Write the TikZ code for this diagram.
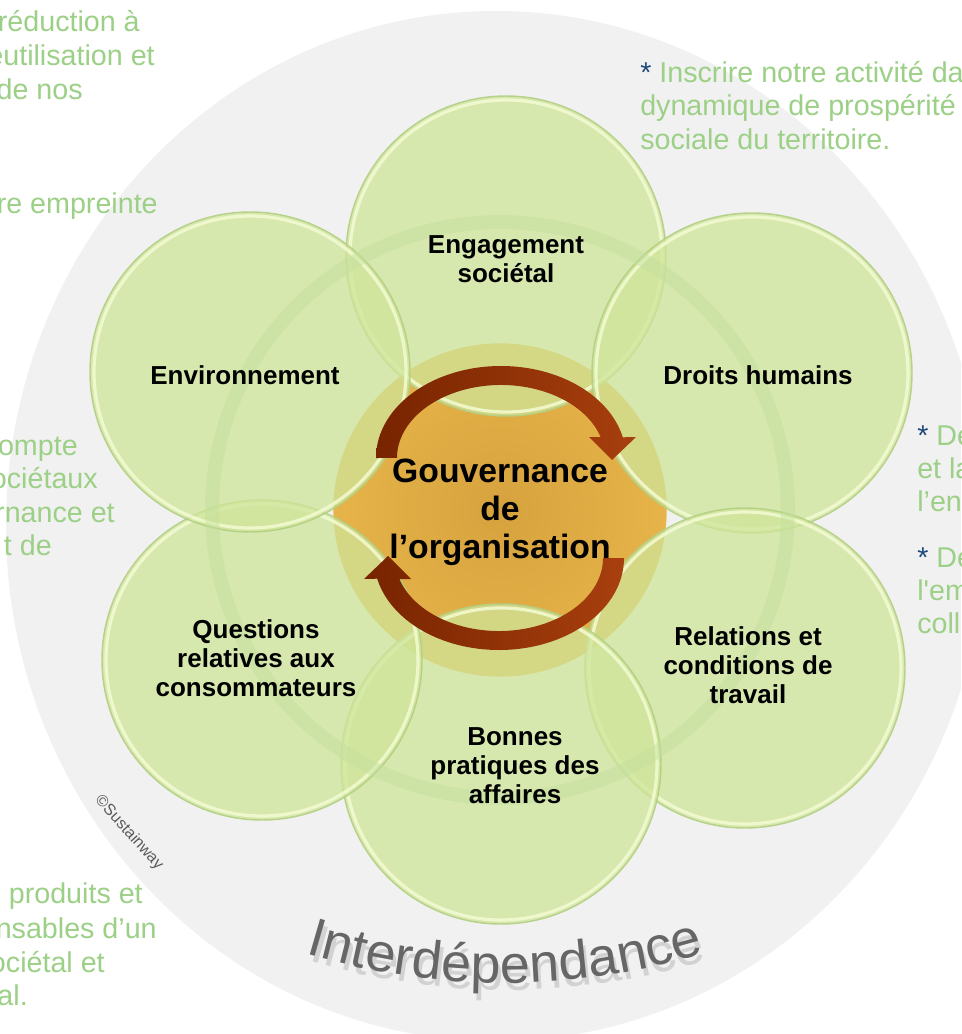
\documentclass[tikz,border=0pt]{standalone}
\usepackage{fontspec}
\setmainfont{Liberation Sans}[Ligatures=TeXOff]
\usetikzlibrary{decorations.text}
\definecolor{bggrey}{HTML}{F1F1F1}
\definecolor{leafgreen}{HTML}{CFE59A}
\definecolor{leafedge}{HTML}{B3CF84}
\definecolor{leafglow}{HTML}{F3FBD2}
\definecolor{hubin}{HTML}{D6A23E}
\definecolor{hubout}{HTML}{E6B449}
\definecolor{arrowdark}{HTML}{772400}
\definecolor{arrowlight}{HTML}{A83F0E}
\definecolor{notegreen}{HTML}{9DD087}
\definecolor{starblue}{HTML}{1F497D}
\definecolor{ringgreen}{HTML}{C2DF9C}
\definecolor{interd}{HTML}{666666}
\definecolor{interdshadow}{HTML}{D2D2D2}
\definecolor{copygrey}{HTML}{5A5A5A}
\begin{document}
\begin{tikzpicture}[x=0.75pt,y=-0.75pt,
  leaf/.style={circle, minimum size=240pt, inner sep=0pt, fill=leafgreen, fill opacity=0.75,
    draw=leafedge, line width=1.1pt, draw opacity=0.9},
  glow/.style={draw=leafglow, line width=2.4pt, draw opacity=0.85},
  hub/.style={circle, minimum size=250pt, inner sep=0pt, inner color=hubin, outer color=hubout},
  ring/.style={draw=ringgreen, line width=10.5pt, draw opacity=0.45},
  leaflabel/.style={font=\bfseries\fontsize{19.5}{21.75}\selectfont, align=center, text=black, inner sep=0pt},
  hublabel/.style={font=\bfseries\fontsize{25.3}{28.5}\selectfont, align=center, text=black, inner sep=0pt},
  arrowband/.style={left color=arrowdark, right color=arrowlight},
  noteL/.style={font=\fontsize{21.5}{25}\selectfont, text=notegreen, inner sep=0pt, anchor=base east},
  noteR/.style={font=\fontsize{21.5}{25}\selectfont, text=notegreen, inner sep=0pt, anchor=base west}
]
\useasboundingbox (0,0) rectangle (961,1034);
\clip (0,0) rectangle (961,1034);
\fill[white] (0,0) rectangle (961,1034);
% outer interdependence disc
\fill[bggrey] (496,526) ellipse[x radius=490, y radius=515];

% central hub
\node[hub] (hub) at (500,510) {};

% six leaves
\node[leaf] (top) at (506,256) {};
\draw[glow] (top.center) circle[radius=156];
\node[leaf] (ur) at (752,373) {};
\draw[glow] (ur.center) circle[radius=156];
\node[leaf] (lr) at (745,668) {};
\draw[glow] (lr.center) circle[radius=156];
\node[leaf] (bot) at (501,764) {};
\draw[glow] (bot.center) circle[radius=156];
\node[leaf] (ll) at (262,660) {};
\draw[glow] (ll.center) circle[radius=156];
\node[leaf] (ul) at (250,372) {};
\draw[glow] (ul.center) circle[radius=156];

% faint ring
\draw[ring] (hub.center) circle[radius=288];

% circular arrows
\path[arrowband] (376,458) arc[start angle=180, end angle=347, x radius=125, y radius=92]
  -- (636,437) -- (612,460) -- (589,437) -- (600.6,437)
  arc[start angle=343.3, end angle=180, x radius=104, y radius=73] -- cycle;
\begin{scope}[rotate around={180:(500,508)}]
\path[arrowband] (376,458) arc[start angle=180, end angle=347, x radius=125, y radius=92]
  -- (636,437) -- (612,460) -- (589,437) -- (600.6,437)
  arc[start angle=343.3, end angle=180, x radius=104, y radius=73] -- cycle;
\end{scope}

% labels
\node[leaflabel] (topT) at (506,259) {Engagement\\sociétal};
\node[leaflabel] (ulT) at (245,375) {Environnement};
\node[leaflabel] (urT) at (758,375) {Droits humains};
\node[leaflabel] (llT) at (256,658) {Questions\\relatives aux\\consommateurs};
\node[leaflabel] (lrT) at (748,665) {Relations et\\conditions de\\travail};
\node[leaflabel] (botT) at (515,766) {Bonnes\\pratiques des\\affaires};
\node[hublabel] (hubT) at (500,512) {Gouvernance\\de\\l’organisation};

% Interdependance along an arc (soft shadow, then text)
\path[decorate, decoration={text along path, text align=center,
  text={|\fontsize{40.5}{40.5}\selectfont\color{interdshadow}|Interdépendance}}]
  (299.6,957.9) arc[start angle=107.5, end angle=72.5, radius=693];
\path[decorate, decoration={text along path, text align=center,
  text={|\fontsize{40.5}{40.5}\selectfont\color{interd}|Interdépendance}}]
  (296.6,950.9) arc[start angle=107.5, end angle=72.5, radius=693];

\node[font=\fontsize{12}{12}\selectfont, text=copygrey, rotate=-48, inner sep=0pt] (copy) at (129,833) {©Sustainway};

% cut-off notes, left side
\node[noteL] (n1) at (140,32) {réduction à};
\node[noteL] (n2) at (155,66) {eutilisation et};
\node[noteL] (n3) at (83,100) {de nos};
\node[noteL] (n4) at (158,214) {re empreinte};
\node[noteL] (n5) at (78,455) {ompte};
\node[noteL] (n6) at (98,488) {ociétaux};
\node[noteL] (n7) at (115,522) {rnance et};
\node[noteL] (n8) at (52,555) {t de};
\node[noteL] (n9) at (143,903) {produits et};
\node[noteL] (n10) at (157,938) {nsables d’un};
\node[noteL] (n11) at (105,972) {ociétal et};
\node[noteL] (n12) at (28,1005) {al.};

% notes, right side
\node[noteR] (r1) at (640,83) {{\color{starblue}*} Inscrire notre activité da};
\node[noteR] (r2) at (640,116) {dynamique de prospérité};
\node[noteR] (r3) at (640,150) {sociale du territoire.};
\node[noteR] (r4) at (917,445) {{\color{starblue}*} De};
\node[noteR] (r5) at (917,478) {et la};
\node[noteR] (r6) at (917,511) {l’en};
\node[noteR] (r7) at (917,567) {{\color{starblue}*} De};
\node[noteR] (r8) at (917,600) {l'em};
\node[noteR] (r9) at (917,633) {coll};
\end{tikzpicture}
\end{document}
